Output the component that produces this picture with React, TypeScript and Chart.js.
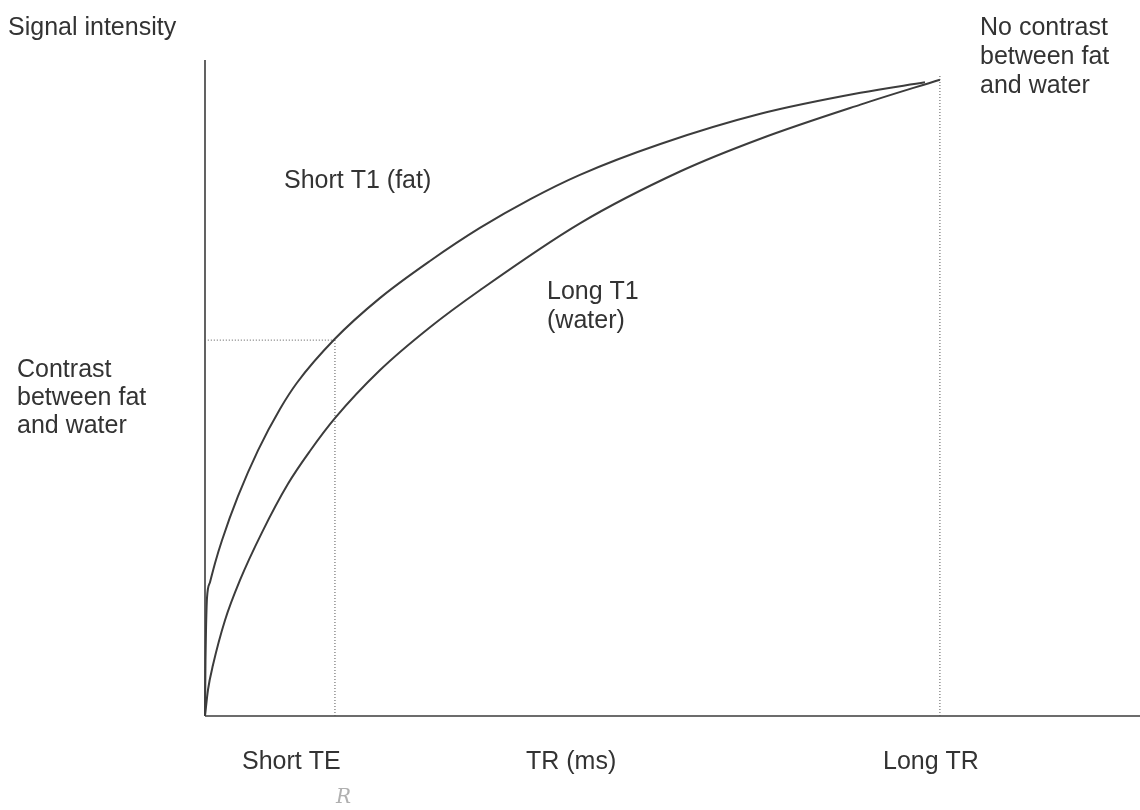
import React, { useEffect, useRef } from "react";
import { Chart, registerables } from "chart.js";

Chart.register(...registerables);

// TR (ms, arbitrary units) and signal intensity (arbitrary units)
const fatTR = [0, 0.53, 1.07, 2.14, 5.35, 10.7, 18.2, 35.3, 56.7, 80.2, 98.4, 139, 187, 241, 294, 348, 401, 487, 594, 701, 770];
const fatSignal = [0, 8.5, 13.1, 18.0, 20.4, 23.3, 26.8, 33.5, 40.5, 46.8, 50.8, 57.5, 63.7, 69.4, 74.4, 78.8, 82.5, 87.2, 91.8, 95.0, 96.6];

const waterTR = [0, 3.2, 8.6, 21.4, 37.4, 61.0, 88.8, 112.3, 139, 187, 241, 294, 401, 508, 594, 701, 786];
const waterSignal = [0, 4.0, 7.8, 14.6, 20.7, 28.0, 35.4, 40.4, 45.4, 52.7, 59.3, 64.9, 75.1, 83.0, 88.0, 93.2, 97.0];

const shortTE = 139;
const longTR = 786;
const contrastLevel = 57.3;
const longTRTop = 97.6;
const xMax = 1000;
const yMax = 100;

const FONT = "25px 'Liberation Sans', Arial, sans-serif";
const TEXT_COLOR = "#333333";
const LINE_COLOR = "#3c3c3c";

const textItems: { lines: string[]; x: number; y: number; lh: number }[] = [
  { lines: ["Signal intensity"], x: 8, y: 35, lh: 0 },
  { lines: ["No contrast", "between fat", "and water"], x: 980, y: 35, lh: 29 },
  { lines: ["Contrast", "between fat", "and water"], x: 17, y: 377, lh: 28 },
  { lines: ["Short T1 (fat)"], x: 284, y: 188, lh: 0 },
  { lines: ["Long T1", "(water)"], x: 547, y: 299, lh: 29 },
  { lines: ["Short TE"], x: 242, y: 769, lh: 0 },
  { lines: ["TR (ms)"], x: 526, y: 769, lh: 0 },
  { lines: ["Long TR"], x: 883, y: 769, lh: 0 },
];

const toPoints = (xs: number[], ys: number[]) => xs.map((x, i) => ({ x, y: ys[i] }));

export default function App() {
  const ref = useRef<HTMLCanvasElement | null>(null);

  useEffect(() => {
    if (!ref.current) return;

    const axesPlugin = {
      id: "axesAndText",
      beforeDatasetsDraw(chart: any) {
        const { ctx, chartArea, scales } = chart;
        const x0 = scales.x.getPixelForValue(0);
        const y0 = scales.y.getPixelForValue(0);
        ctx.save();
        ctx.strokeStyle = LINE_COLOR;
        ctx.lineWidth = 1.6;
        ctx.beginPath();
        ctx.moveTo(x0, y0);
        ctx.lineTo(x0, chartArea.top);
        ctx.moveTo(x0, y0);
        ctx.lineTo(chartArea.right, y0);
        ctx.stroke();
        ctx.restore();
      },
      afterDraw(chart: any) {
        const { ctx } = chart;
        ctx.save();
        ctx.fillStyle = TEXT_COLOR;
        ctx.font = FONT;
        ctx.textBaseline = "alphabetic";
        ctx.textAlign = "left";
        textItems.forEach((t) => {
          t.lines.forEach((line, i) => ctx.fillText(line, t.x, t.y + i * t.lh));
        });
        ctx.fillStyle = "#b0b0b0";
        ctx.font = "italic 20px 'DejaVu Serif', serif";
        ctx.fillText("R", 336, 803);
        ctx.restore();
      },
    };

    const dotted = {
      borderColor: "#555555",
      borderWidth: 1,
      borderDash: [1, 2],
      pointRadius: 0,
      fill: false,
      clip: false as any,
      tension: 0,
    };

    const curve = {
      borderColor: LINE_COLOR,
      borderWidth: 2,
      pointRadius: 0,
      cubicInterpolationMode: "monotone" as const,
      fill: false,
      clip: false as any,
    };

    const chart = new Chart(ref.current, {
      type: "line",
      data: {
        datasets: [
          { label: "Short T1 (fat)", data: toPoints(fatTR, fatSignal), ...curve },
          { label: "Long T1 (water)", data: toPoints(waterTR, waterSignal), ...curve },
          {
            label: "contrast level",
            data: [
              { x: 3, y: contrastLevel },
              { x: shortTE, y: contrastLevel },
            ],
            ...dotted,
          },
          {
            label: "Short TE",
            data: [
              { x: shortTE, y: 0 },
              { x: shortTE, y: contrastLevel },
            ],
            ...dotted,
          },
          {
            label: "Long TR",
            data: [
              { x: longTR, y: 0 },
              { x: longTR, y: longTRTop },
            ],
            ...dotted,
          },
        ],
      },
      options: {
        responsive: false,
        animation: false,
        layout: { padding: { left: 205, top: 60, right: 0, bottom: 94 } },
        plugins: {
          legend: { display: false },
          tooltip: { enabled: false },
          title: { display: false },
        },
        scales: {
          x: { type: "linear", min: 0, max: xMax, display: false },
          y: { type: "linear", min: 0, max: yMax, display: false },
        },
      },
      plugins: [axesPlugin],
    });

    return () => chart.destroy();
  }, []);

  return (
    <div style={{ position: "absolute", left: 0, top: 0, width: 1140, height: 810, background: "#ffffff" }}>
      <canvas ref={ref} width={1140} height={810} style={{ width: 1140, height: 810 }} />
    </div>
  );
}
